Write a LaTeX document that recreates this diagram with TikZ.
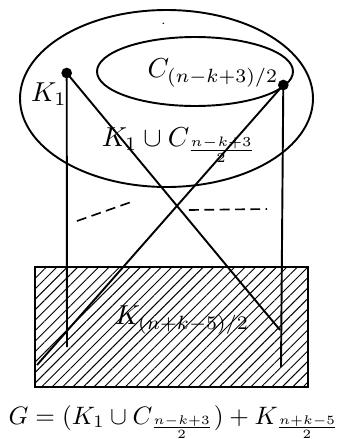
\documentclass[tikz,border=0pt]{standalone}
\usetikzlibrary{patterns.meta}
\begin{document}
\begin{tikzpicture}[x=0.365pt,y=-0.365pt,
  edge/.style={line width=0.7pt},
  vdot/.style={circle,fill=black,inner sep=0pt,minimum size=3.9pt},
  dashmark/.style={line width=0.6pt,dash pattern=on 3.6pt off 2pt}]
\useasboundingbox (0,0) rectangle (342,439);
% hatched block
\node[draw,line width=0.75pt,minimum width=273*0.365pt,minimum height=120*0.365pt,inner sep=0pt,
  pattern={Lines[angle=45,distance=2.7pt,line width=0.35pt]}] (blk) at (171.5,327) {};
\node (blklab) at (182,320) {$K_{(n+k-5)/2}$};
% ellipses
\draw[line width=0.7pt] (166.5,98.5) ellipse [x radius=53.47pt, y radius=32.3pt];
\draw[line width=0.7pt] (195,71.5) ellipse [x radius=35.77pt, y radius=12.59pt];
\fill (163.3,23.3) circle [radius=0.3pt];
% labels
\node (k1) at (49,94) {$K_1$};
\node (clab) at (213,73) {$C_{(n-k+3)/2}$};
\node (ulab) at (179,145) {$K_1\cup C_{\frac{n-k+3}{2}}$};
% vertices
\node[vdot] (a) at (66.7,73) {};
\node[vdot] (b) at (283.3,85) {};
\coordinate (a1) at (67,347);
\coordinate (a2) at (280,330);
\coordinate (b1) at (281,367);
\coordinate (b2) at (37,365);
\draw[edge] (a.center) -- (a1);
\draw[edge] (a.center) -- (a2);
\draw[edge] (b.center) -- (b1);
\draw[edge] (b.center) -- (b2);
% dashed marks
\coordinate (d1) at (77,221);
\coordinate (d2) at (134,201);
\coordinate (d3) at (189,210);
\coordinate (d4) at (267,209);
\draw[dashmark] (d1) -- (d2);
\draw[dashmark] (d3) -- (d4);
% formula
\node[anchor=base,inner sep=0pt,scale=0.92] (form) at (174,424) {$G=(K_1\cup C_{\frac{n-k+3}{2}})+K_{\frac{n+k-5}{2}}$};
\end{tikzpicture}
\end{document}
